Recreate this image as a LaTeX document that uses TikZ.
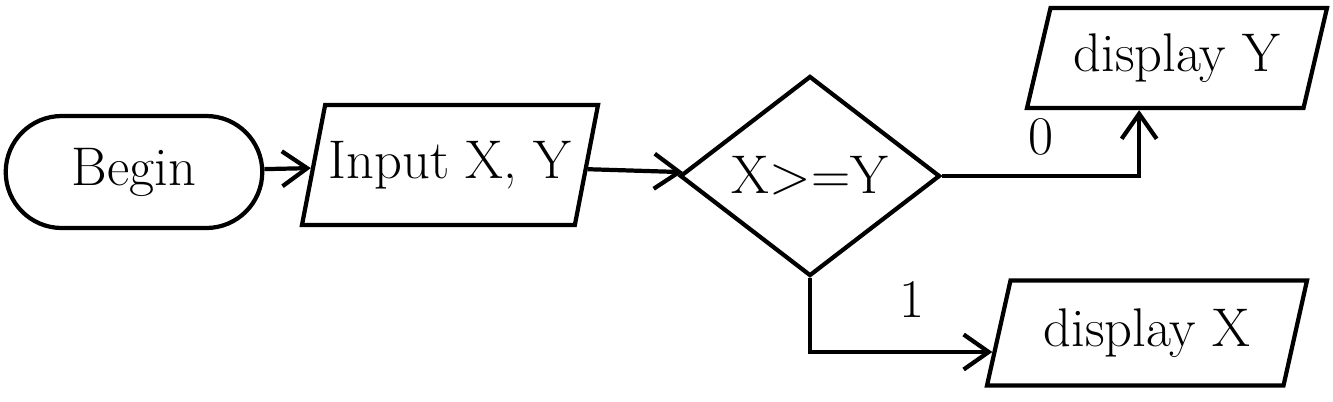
\documentclass[tikz,border=0pt]{standalone}
\usetikzlibrary{shapes.geometric,shapes.misc,arrows.meta}
\begin{document}
\begin{tikzpicture}[>={Straight Barb[length=2.5mm,width=3.5mm]}, line width=1.2pt,
  every node/.style={font=\fontsize{15.5}{19}\selectfont},
  terminal/.style={draw, rounded rectangle, minimum width=2.8cm, minimum height=1.12cm},
  iobox/.style={draw, trapezium, trapezium left angle=72, trapezium right angle=108,
    trapezium stretches body, inner xsep=1pt, minimum width=2.75cm, minimum height=1.2cm},
  decision/.style={draw, diamond, minimum width=2.6cm, minimum height=2.0cm, inner sep=0pt}]
  \useasboundingbox (0,0) rectangle (13.33,-4.01);
  % Noder
  \node[terminal] (begin) at (1.34,-1.72) {Begin};
  \node[iobox] (input) at (4.5,-1.65) {Input X, Y};
  \node[decision] (test) at (8.1,-1.76) {X>=Y};
  \node[iobox, minimum width=3.0cm, minimum height=1.0cm] (showy) at (11.77,-0.58) {display Y};
  \node[iobox, minimum width=3.2cm, minimum height=1.05cm] (showx) at (11.47,-3.33) {display X};
  % Pile
  \draw[->] (begin) -- (input);
  \draw[->] (input) -- (test);
  \draw[->] (test.east) -| node[pos=0.25, above=2pt] (zero) {0} (showy.234);
  \draw[->] (test.south) |- node[pos=0.78, above=6pt] (one) {1} (showx.187);
\end{tikzpicture}
\end{document}
